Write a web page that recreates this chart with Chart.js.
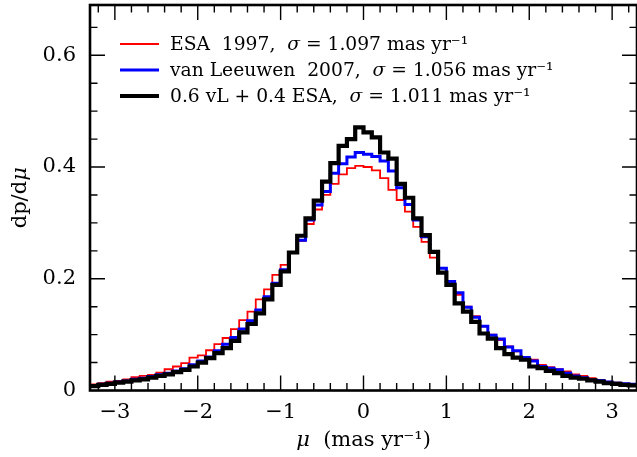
<!DOCTYPE html>
<html><head><meta charset="utf-8">
<script src="https://cdn.jsdelivr.net/npm/chart.js@4.4.0/dist/chart.umd.min.js"></script>
<style>html,body{margin:0;padding:0;background:#fff;}#wrap{width:637px;height:457px;}</style>
</head><body><div id="wrap"><canvas id="c" width="637" height="457"></canvas></div>
<script>
// bin edges (mas/yr)
const binEdges = [-3.3,-3.2,-3.1,-3.0,-2.9,-2.8,-2.7,-2.6,-2.5,-2.4,-2.3,-2.2,-2.1,-2.0,-1.9,-1.8,-1.7,-1.6,-1.5,-1.4,-1.3,-1.2,-1.1,-1.0,-0.9,-0.8,-0.7,-0.6,-0.5,-0.4,-0.3,-0.2,-0.1,0.0,0.1,0.2,0.3,0.4,0.5,0.6,0.7,0.8,0.9,1.0,1.1,1.2,1.3,1.4,1.5,1.6,1.7,1.8,1.9,2.0,2.1,2.2,2.3,2.4,2.5,2.6,2.7,2.8,2.9,3.0,3.1,3.2,3.3];
// ESA 1997
const esa = [0.011,0.013,0.016,0.017,0.020,0.024,0.026,0.028,0.032,0.038,0.043,0.049,0.059,0.063,0.072,0.083,0.094,0.110,0.126,0.141,0.163,0.181,0.207,0.225,0.246,0.268,0.298,0.324,0.350,0.370,0.387,0.398,0.402,
             0.400,0.394,0.380,0.359,0.341,0.320,0.293,0.266,0.238,0.219,0.195,0.171,0.150,0.133,0.115,0.100,0.090,0.079,0.070,0.060,0.055,0.046,0.042,0.038,0.034,0.029,0.026,0.022,0.019,0.016,0.014,0.012,0.011];
// van Leeuwen 2007
const vl = [0.009,0.011,0.013,0.015,0.017,0.020,0.022,0.025,0.028,0.031,0.035,0.039,0.046,0.053,0.060,0.071,0.083,0.095,0.110,0.125,0.144,0.168,0.192,0.216,0.247,0.269,0.305,0.332,0.356,0.389,0.406,0.418,0.426,
            0.423,0.419,0.411,0.393,0.363,0.333,0.305,0.275,0.247,0.219,0.195,0.175,0.149,0.131,0.115,0.099,0.092,0.078,0.071,0.059,0.053,0.043,0.040,0.037,0.031,0.026,0.023,0.019,0.018,0.015,0.013,0.012,0.011];
// 0.6 vL + 0.4 ESA
const combo = [0.008,0.010,0.012,0.014,0.016,0.018,0.020,0.023,0.026,0.029,0.033,0.037,0.043,0.050,0.058,0.067,0.076,0.089,0.104,0.119,0.138,0.163,0.189,0.213,0.247,0.277,0.308,0.340,0.374,0.407,0.438,0.450,0.471,
               0.462,0.453,0.426,0.415,0.370,0.345,0.308,0.278,0.248,0.211,0.189,0.156,0.141,0.123,0.102,0.093,0.076,0.065,0.059,0.055,0.043,0.040,0.035,0.031,0.026,0.023,0.021,0.018,0.016,0.013,0.012,0.010,0.009];
const xTicks = [-3,-2,-1,0,1,2,3];
const xMinor = [-3.2,-3.0,-2.8,-2.6,-2.4,-2.2,-2.0,-1.8,-1.6,-1.4,-1.2,-1.0,-0.8,-0.6,-0.4,-0.2,0,0.2,0.4,0.6,0.8,1.0,1.2,1.4,1.6,1.8,2.0,2.2,2.4,2.6,2.8,3.0,3.2];
const yTicks = [0,0.2,0.4,0.6];
const yMinor = [0.05,0.1,0.15,0.2,0.25,0.3,0.35,0.4,0.45,0.5,0.55,0.6,0.65];
const seriesNames = ['ESA  1997,', 'van Leeuwen  2007,', '0.6 vL + 0.4 ESA,'];
const seriesSigma = ['1.097', '1.056', '1.011'];
const seriesColors = ['#ff0000', '#0000ff', '#000000'];
const seriesWidths = [1.8, 3, 4.2];

const SERIF = '"DejaVu Serif", "Liberation Serif", serif';

function stepData(vals){
  const pts = vals.map((v,i)=>({x:binEdges[i], y:v}));
  pts.push({x:binEdges[vals.length], y:vals[vals.length-1]});
  return pts;
}
function fmtX(v){ return v < 0 ? '\u2212' + Math.abs(v) : String(v); }
function fmtY(v){ return v === 0 ? '0' : v.toFixed(1); }

function drawRich(ctx, x, y, parts){
  let cx = x;
  for (const p of parts){
    ctx.font = p.font;
    ctx.fillText(p.t, cx, y + (p.dy || 0));
    cx += ctx.measureText(p.t).width;
  }
  return cx;
}

const framePlugin = {
  id: 'frame',
  afterDatasetsDraw(chart){
    const {ctx, chartArea:a, scales:{x, y}} = chart;
    ctx.save();
    ctx.strokeStyle = '#000';
    ctx.lineWidth = 1.4;
    ctx.beginPath();
    xMinor.forEach(v=>{
      const major = xTicks.includes(Math.round(v*10)/10);
      const px = x.getPixelForValue(v);
      const L = major ? 15 : 7.5;
      ctx.moveTo(px, a.bottom); ctx.lineTo(px, a.bottom - L);
      ctx.moveTo(px, a.top); ctx.lineTo(px, a.top + L);
    });
    yMinor.forEach(v=>{
      const major = yTicks.some(t=>Math.abs(t-v)<1e-6);
      const py = y.getPixelForValue(v);
      const L = major ? 15 : 7.5;
      ctx.moveTo(a.left, py); ctx.lineTo(a.left + L, py);
      ctx.moveTo(a.right, py); ctx.lineTo(a.right - L, py);
    });
    ctx.stroke();
    ctx.lineWidth = 2.6;
    ctx.strokeRect(a.left, a.top, a.right - a.left, a.bottom - a.top);

    // legend
    ctx.fillStyle = '#000';
    ctx.textBaseline = 'alphabetic';
    ctx.textAlign = 'left';
    const fs = 18.7;
    for (let i = 0; i < 3; i++){
      const ly = 44 + i*26;
      ctx.strokeStyle = seriesColors[i];
      ctx.lineWidth = seriesWidths[i];
      ctx.beginPath(); ctx.moveTo(120, ly); ctx.lineTo(159, ly); ctx.stroke();
      drawRich(ctx, 170, ly + 6, [
        {t: seriesNames[i] + '  ', font: fs + 'px ' + SERIF},
        {t: '\u03C3', font: 'italic ' + fs + 'px ' + SERIF},
        {t: ' = ' + seriesSigma[i] + ' mas yr\u207B\u00B9', font: fs + 'px ' + SERIF}
      ]);
    }
    // x title
    const xparts = [
      {t: '\u03BC', font: 'italic 21px ' + SERIF},
      {t: '  (mas yr\u207B\u00B9)', font: '21px ' + SERIF}
    ];
    let w = 0; xparts.forEach(p=>{ctx.font=p.font; w += ctx.measureText(p.t).width;});
    const cxm = (a.left + a.right)/2;
    drawRich(ctx, cxm - w/2, 446, xparts);
    // y title
    ctx.save();
    ctx.translate(26, (a.top + a.bottom)/2);
    ctx.rotate(-Math.PI/2);
    const yparts = [
      {t: 'dp/d', font: '21px ' + SERIF},
      {t: '\u03BC', font: 'italic 21px ' + SERIF}
    ];
    w = 0; yparts.forEach(p=>{ctx.font=p.font; w += ctx.measureText(p.t).width;});
    drawRich(ctx, -w/2, 0, yparts);
    ctx.restore();
    ctx.restore();
  }
};

const datasets = [0,1,2].map(i => ({
  label: seriesNames[i],
  data: stepData([esa, vl, combo][i]),
  borderColor: seriesColors[i],
  borderWidth: seriesWidths[i],
  stepped: 'before',
  pointRadius: 0,
  fill: false,
  tension: 0,
  borderJoinStyle: 'miter',
  clip: 0,
  order: 3 - i
}));

function zeroPad(s){ s.paddingTop = 0; s.paddingBottom = 0; s.paddingLeft = 0; s.paddingRight = 0; }

new Chart(document.getElementById('c'), {
  type: 'line',
  data: { datasets },
  options: {
    responsive: false,
    animation: false,
    events: [],
    layout: { padding: { top: 5, right: 0, left: 0, bottom: 0 } },
    plugins: { legend: { display: false }, tooltip: { enabled: false } },
    scales: {
      x: {
        type: 'linear', min: -3.3, max: 3.3,
        afterBuildTicks: s => { s.ticks = xTicks.map(v => ({ value: v })); },
        afterFit: s => { s.height = 66.5; zeroPad(s); },
        grid: { display: false, drawTicks: false },
        border: { display: false },
        ticks: { callback: v => fmtX(v), font: { family: SERIF, size: 21 }, color: '#000', padding: 9, maxRotation: 0 }
      },
      y: {
        type: 'linear', min: 0, max: 0.69,
        afterBuildTicks: s => { s.ticks = yTicks.map(v => ({ value: v })); },
        afterFit: s => { s.width = 90; zeroPad(s); },
        grid: { display: false, drawTicks: false },
        border: { display: false },
        ticks: { callback: v => fmtY(v), font: { family: SERIF, size: 21 }, color: '#000', padding: 14 }
      }
    }
  },
  plugins: [framePlugin]
});
</script>
</body></html>
